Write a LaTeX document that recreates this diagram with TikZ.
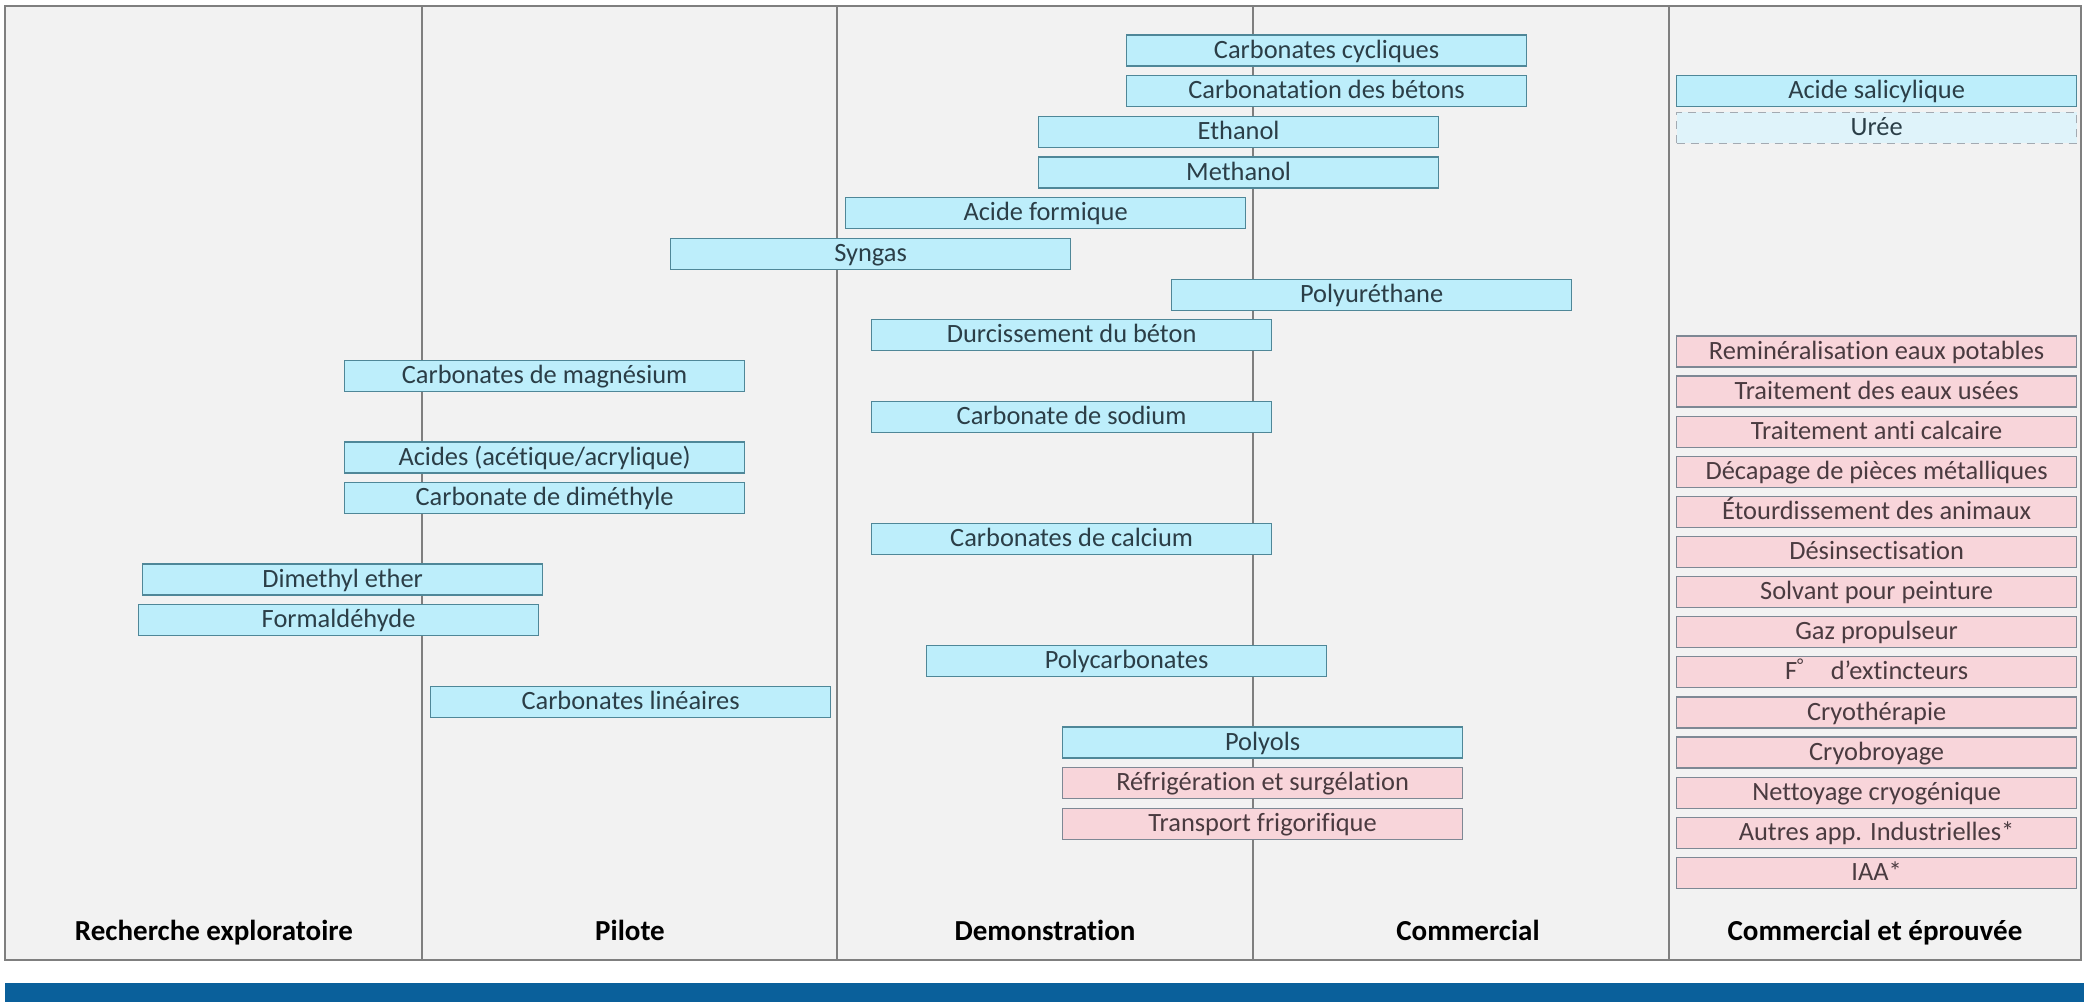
\documentclass[tikz,border=0pt]{standalone}
\usepackage{fontspec}
\setmainfont{Carlito}[Ligatures=NoCommon]
\definecolor{panelbg}{HTML}{F2F2F2}
\definecolor{rulegray}{HTML}{7F7F7F}
\definecolor{cyanfill}{HTML}{BDEEFB}
\definecolor{cyanedge}{HTML}{4F8798}
\definecolor{cyantext}{HTML}{2B3E47}
\definecolor{pinkfill}{HTML}{F8D5DA}
\definecolor{pinkedge}{HTML}{7E8894}
\definecolor{pinktext}{HTML}{4A3B40}
\definecolor{ureefill}{HTML}{DFF3FA}
\definecolor{ureeedge}{HTML}{A3AAB2}
\definecolor{barblue}{HTML}{0A609B}

\begin{document}
\begin{tikzpicture}[x=0.5pt, y=-0.5pt,
        cyanbox/.style={draw=cyanedge,fill=cyanfill,text=cyantext,line width=0.6pt,
          minimum width=200pt,minimum height=15.5pt,inner sep=0pt,anchor=west,
          text height=10.4pt,text depth=2.8pt,
          font=\fontsize{13.2}{14}\selectfont},
        pinkbox/.style={cyanbox,draw=pinkedge,fill=pinkfill,text=pinktext},
        ureebox/.style={cyanbox,draw=ureeedge,fill=ureefill,dash pattern=on 4pt off 3pt},
        stage/.style={text=black,anchor=base,font=\bfseries\fontsize{14.5}{16}\selectfont}]
        \useasboundingbox (0,0) rectangle (2084,1005);
        % frame and stage columns
        \draw[rulegray,fill=panelbg,line width=0.8pt] (5,6) rectangle (2081,960);
        \foreach \xd in {422,837,1253,1669}
          \draw[rulegray,line width=0.8pt] (\xd,6) -- (\xd,960);
        \fill[barblue] (5,983) rectangle (2084,1002);
        % stages
        \node[stage] at (214,940) (rech) {Recherche exploratoire};
        \node[stage] at (630,940) (pil) {Pilote};
        \node[stage] at (1045,940) (demo) {Demonstration};
        \node[stage] at (1468,940) (comm) {Commercial};
        \node[stage] at (1875,940) (prouv) {Commercial et éprouvée};
        % valorisation routes
        \node[cyanbox] at (1126,50.5) (cyc) {Carbonates cycliques};
        \node[cyanbox] at (1126,91.2) (beton) {Carbonatation des bétons};
        \node[cyanbox] at (1038,131.9) (eth) {Ethanol};
        \node[cyanbox] at (1038,172.6) (meth) {Methanol};
        \node[cyanbox] at (845,213.3) (form) {Acide formique};
        \node[cyanbox] at (670,254) (syn) {Syngas};
        \node[cyanbox] at (1171,294.7) (pur) {Polyuréthane};
        \node[cyanbox] at (871,335.4) (durc) {Durcissement du béton};
        \node[cyanbox] at (344,376.1) (mag) {Carbonates de magnésium};
        \node[cyanbox] at (871,416.8) (sod) {Carbonate de sodium};
        \node[cyanbox] at (344,457.5) (acid) {Acides (acétique/acrylique)};
        \node[cyanbox] at (344,498.2) (dmc) {Carbonate de diméthyle};
        \node[cyanbox] at (871,538.9) (calc) {Carbonates de calcium};
        \node[cyanbox] at (142,579.6) (dme) {Dimethyl ether};
        \node[cyanbox] at (138,620.3) (formal) {Formaldéhyde};
        \node[cyanbox] at (926,661) (pc) {Polycarbonates};
        \node[cyanbox] at (430,701.7) (lin) {Carbonates linéaires};
        \node[cyanbox] at (1062,742.4) (pol) {Polyols};
        \node[pinkbox] at (1062,783.1) (refr) {Réfrigération et surgélation};
        \node[pinkbox] at (1062,823.8) (trans) {Transport frigorifique};
        % proven uses
        \node[cyanbox] at (1676,91) (sal) {Acide salicylique};
        \node[ureebox] at (1676,128) (uree) {Urée};
        \node[pinkbox] at (1676,351.5) (remin) {Reminéralisation eaux potables};
        \node[pinkbox] at (1676,391.6) (usees) {Traitement des eaux usées};
        \node[pinkbox] at (1676,431.7) (calca) {Traitement anti calcaire};
        \node[pinkbox] at (1676,471.8) (decap) {Décapage de pièces métalliques};
        \node[pinkbox] at (1676,511.9) (etour) {Étourdissement des animaux};
        \node[pinkbox] at (1676,552) (desin) {Désinsectisation};
        \node[pinkbox] at (1676,592.1) (solv) {Solvant pour peinture};
        \node[pinkbox] at (1676,632.2) (gaz) {Gaz propulseur};
        \node[pinkbox] at (1676,672.3) (ext) {F\textsuperscript{°}\quad d’extincteurs};
        \node[pinkbox] at (1676,712.4) (cryot) {Cryothérapie};
        \node[pinkbox] at (1676,752.5) (cryob) {Cryobroyage};
        \node[pinkbox] at (1676,792.6) (nett) {Nettoyage cryogénique};
        \node[pinkbox] at (1676,832.7) (autres) {Autres app. Industrielles*};
        \node[pinkbox] at (1676,872.8) (iaa) {IAA*};
      \end{tikzpicture}
\end{document}
